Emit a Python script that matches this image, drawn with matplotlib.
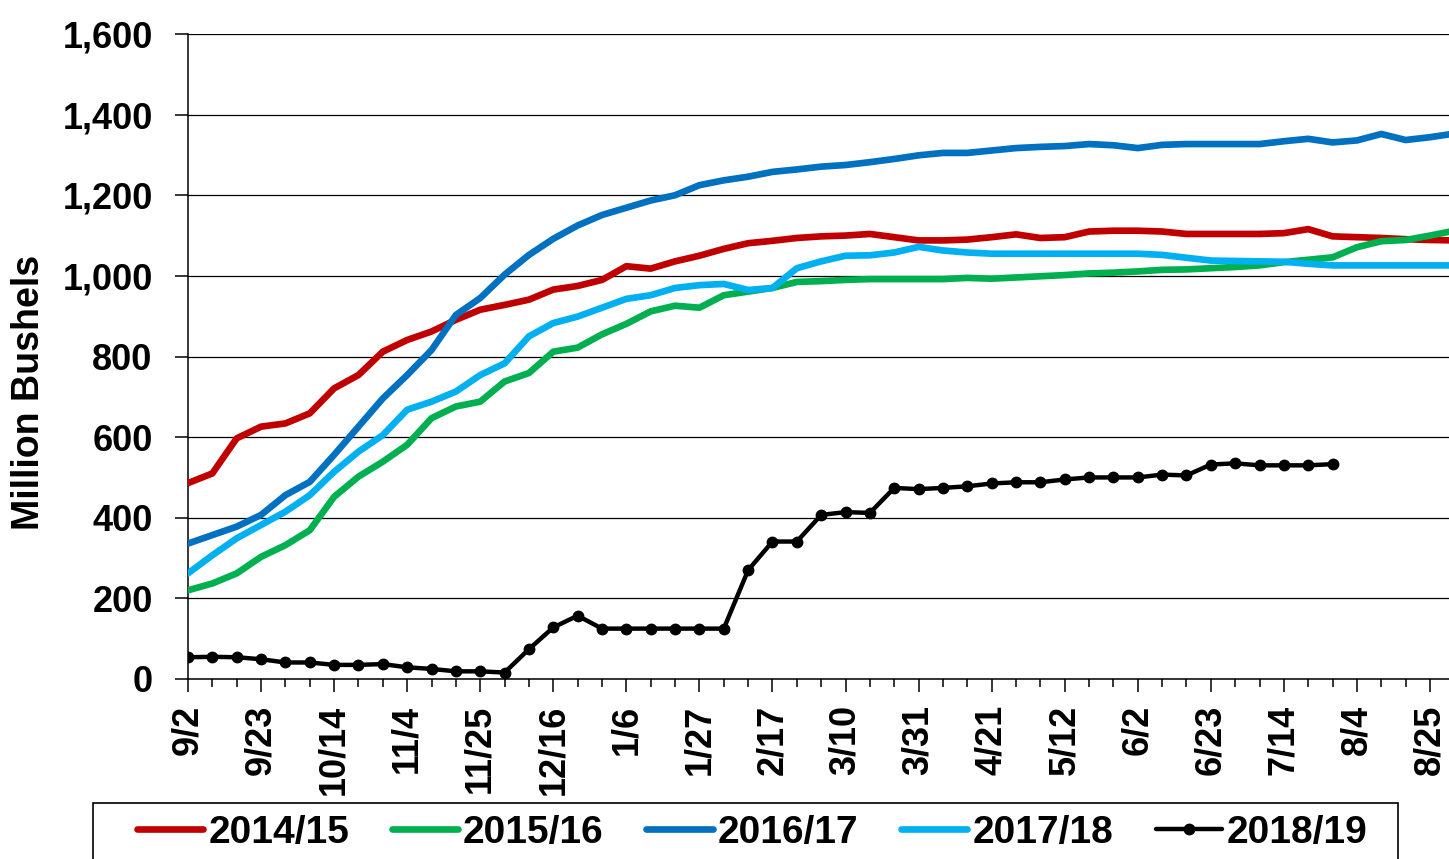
import matplotlib
matplotlib.use("Agg")
import matplotlib.pyplot as plt
from matplotlib.patches import Rectangle
from matplotlib.ticker import MultipleLocator, FuncFormatter
import numpy as np

plt.rcParams['font.family'] = ['Liberation Sans', 'DejaVu Sans']
plt.rcParams['font.weight'] = 'bold'

# Week index 0 = 9/2 ... 51 = 8/25
tick_labels = ["9/2", "9/23", "10/14", "11/4", "11/25", "12/16", "1/6", "1/27", "2/17",
               "3/10", "3/31", "4/21", "5/12", "6/2", "6/23", "7/14", "8/4", "8/25"]

y2014 = [486, 510, 597, 626, 634, 659, 721, 754, 812, 841, 862, 891, 916, 928, 941, 966, 975, 990,
         1024, 1018, 1036, 1050, 1067, 1081, 1087, 1094, 1098, 1100, 1104, 1096, 1088, 1088, 1090,
         1096, 1103, 1094, 1096, 1110, 1112, 1112, 1110, 1104, 1104, 1104, 1104, 1106, 1116, 1098,
         1096, 1094, 1091, 1089, 1088]
y2015 = [220, 237, 262, 303, 332, 369, 452, 502, 539, 581, 647, 676, 688, 738, 759, 812, 822, 855,
         881, 912, 926, 921, 952, 961, 970, 985, 987, 990, 992, 992, 992, 992, 995,
         993, 996, 999, 1002, 1006, 1008, 1011, 1015, 1016, 1019, 1022, 1026, 1034, 1040, 1046,
         1071, 1086, 1089, 1100, 1112]
y2016 = [336, 357, 378, 407, 456, 489, 556, 626, 696, 754, 816, 903, 945, 1003, 1052, 1092, 1125, 1151,
         1169, 1187, 1200, 1225, 1237, 1246, 1258, 1264, 1271, 1275, 1282, 1290, 1299, 1305, 1305,
         1311, 1317, 1320, 1322, 1327, 1324, 1317, 1325, 1327, 1327, 1327, 1327, 1334, 1340, 1331,
         1336, 1352, 1337, 1344, 1353]
y2017 = [262, 307, 349, 382, 415, 456, 514, 564, 605, 668, 688, 713, 754, 783, 850, 883, 899, 921,
         943, 952, 970, 977, 980, 965, 970, 1019, 1036, 1050, 1051, 1058, 1072, 1063, 1058,
         1055, 1055, 1055, 1055, 1055, 1055, 1055, 1052, 1045, 1038, 1037, 1036, 1035, 1030, 1026,
         1026, 1026, 1026, 1026, 1026]
y2018 = [54, 55, 54, 49, 41, 41, 35, 35, 37, 29, 25, 19, 19, 16, 74, 128, 157, 125,
         125, 125, 125, 125, 125, 270, 341, 341, 407, 414, 412, 474, 471, 474, 478,
         485, 488, 488, 495, 500, 500, 500, 507, 505, 532, 535, 530, 530, 530, 533]

W, H = 1449, 859
fig = plt.figure(figsize=(W / 100, H / 100), dpi=100)
ax = fig.add_axes([188 / W, 180 / H, (1449.5 - 188) / W, 645 / H])

lw = 4.8
ax.plot(np.arange(len(y2014)), y2014, color="#C00000", lw=lw, label="2014/15",
        solid_capstyle='round', solid_joinstyle='round', zorder=3)
ax.plot(np.arange(len(y2015)), y2015, color="#00B050", lw=lw, label="2015/16",
        solid_capstyle='round', solid_joinstyle='round', zorder=3)
ax.plot(np.arange(len(y2016)), y2016, color="#0070C0", lw=lw, label="2016/17",
        solid_capstyle='round', solid_joinstyle='round', zorder=3)
ax.plot(np.arange(len(y2017)), y2017, color="#00B0F0", lw=lw, label="2017/18",
        solid_capstyle='round', solid_joinstyle='round', zorder=3)
ax.plot(np.arange(len(y2018)), y2018, color="black", lw=3.2, marker='o', markersize=7.5,
        label="2018/19", solid_capstyle='round', solid_joinstyle='round', zorder=4)

ax.set_xlim(0, 51.8)
ax.set_ylim(0, 1600)

ax.yaxis.set_major_locator(MultipleLocator(200))
ax.yaxis.set_major_formatter(FuncFormatter(lambda v, p: f"{int(v):,}"))
ax.grid(axis='y', color='black', lw=0.9, zorder=1)
ax.set_axisbelow(True)

ax.set_xticks(np.arange(0, 52, 3))
ax.set_xticklabels(tick_labels, rotation=90, fontsize=26, fontweight='bold')
ax.set_xticks(np.arange(0, 52, 1), minor=True)

for lab in ax.get_yticklabels():
    lab.set_fontsize(26)
    lab.set_fontweight('bold')

ax.tick_params(axis='x', which='major', direction='out', length=9, width=1.1, pad=9.5)
ax.tick_params(axis='x', which='minor', direction='out', length=5.5, width=1.1)
ax.tick_params(axis='y', which='major', direction='out', length=9.4, width=1.1, pad=16,
               labelsize=26)

for s in ['top', 'right']:
    ax.spines[s].set_visible(False)
for s in ['left', 'bottom']:
    ax.spines[s].set_linewidth(1.1)
    ax.spines[s].set_color('black')

fig.text(29 / W, 1 - 392 / H, "Million Bushels", rotation=90, ha='center', va='center',
         fontsize=27, fontweight='bold')

# legend frame
rect = Rectangle((93 / W, -0.05), 1305 / W, (H - 803) / H + 0.05, transform=fig.transFigure,
                 facecolor='white', edgecolor='black', lw=1.2, zorder=0)
fig.patches.append(rect)

leg = fig.legend(loc='center left', bbox_to_anchor=(137 / W, 1 - 833 / H), ncol=5,
                 frameon=False, borderpad=0, borderaxespad=0, handlelength=1.7,
                 handletextpad=0.13, columnspacing=1.1, prop={'size': 28, 'weight': 'bold'})

fig.savefig("out.png", dpi=100)
